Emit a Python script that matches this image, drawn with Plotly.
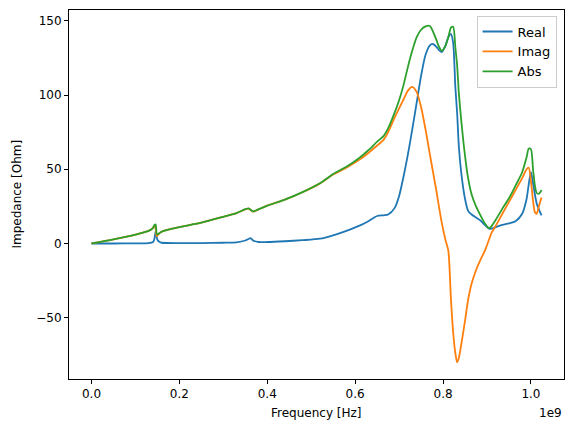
import plotly.graph_objects as go

freq_ghz = [0, 0.05, 0.10, 0.13, 0.14, 0.143, 0.146, 0.148, 0.150, 0.155, 0.16, 0.20, 0.25, 0.30,
            0.33, 0.35, 0.357, 0.362, 0.368, 0.38, 0.40, 0.44, 0.48, 0.52, 0.55, 0.58, 0.61, 0.63,
            0.65, 0.665, 0.675, 0.69, 0.70, 0.71, 0.72, 0.73, 0.74, 0.75, 0.76, 0.77, 0.776, 0.785,
            0.79, 0.797, 0.805, 0.812, 0.818, 0.823, 0.828, 0.832, 0.836, 0.842, 0.85, 0.857, 0.865,
            0.875, 0.885, 0.895, 0.905, 0.91, 0.92, 0.935, 0.95, 0.965, 0.98, 0.99, 0.995, 1.0,
            1.005, 1.009, 1.013, 1.018, 1.024]

real_ohm = [0, 0, 0.1, 0.3, 1, 3, 8, 5, 2.5, 1, 0.5, 0.3, 0.3, 0.5,
            0.8, 2, 3, 3.6, 2, 1, 1, 1.5, 2.2, 3.2, 5.5, 8.5, 12, 15,
            18.5, 19, 19.5, 24, 32, 45, 60, 77, 95, 113, 127, 133.5, 134.5, 132.5,
            130.5, 129, 133, 139, 141, 135, 105, 88, 65, 46, 30, 22, 19.5,
            17.5, 15.5, 12.5, 10, 10, 11, 12.5, 13.5, 15, 20, 30, 40, 48,
            40, 33, 27, 23, 19]

imag_ohm = [0, 2.8, 6, 8.5, 10.5, 12, 10, 5, 5.5, 7, 8, 11, 14, 18,
            20.5, 23, 23.5, 22.5, 21.5, 23, 25.5, 29.5, 34.5, 40.5, 46.5, 51, 56.5, 61,
            66, 70, 75, 85, 91, 97, 103, 105.5, 102, 92, 77, 60, 50, 35,
            26, 14, 3, -5, -38, -60, -74, -80, -77, -67, -52, -38, -27,
            -18, -11, -5, 3, 7, 12, 20, 28, 36, 44, 50, 51, 42,
            28, 21, 20, 25, 31]

abs_ohm = [0, 2.8, 6, 8.5, 10.5, 12.4, 12.8, 7, 6.1, 7.1, 8, 11, 14, 18,
           20.5, 23.1, 23.7, 22.8, 21.6, 23, 25.5, 29.5, 34.6, 40.6, 46.8, 51.7, 57.8, 62.8,
           68.6, 72.5, 77.5, 88.3, 96.5, 106.7, 119, 130, 139, 144, 146.3, 146.5, 143.5, 137,
           133, 129.8, 133, 139, 145.5, 146, 132, 120, 101, 81, 59, 44, 33,
           25, 19, 13.5, 10.4, 11.5, 16, 23.5, 30.5, 39, 48, 58, 64, 63.5,
           49, 39, 34, 33.5, 36]

freq_hz = [f * 1e9 for f in freq_ghz]

x_ticks = [0.0, 0.2, 0.4, 0.6, 0.8, 1.0]
x_tick_labels = ["0.0", "0.2", "0.4", "0.6", "0.8", "1.0"]
y_ticks = [-50, 0, 50, 100, 150]
y_tick_labels = ["\u221250", "0", "50", "100", "150"]

series = [("Real", real_ohm, "#1f77b4"), ("Imag", imag_ohm, "#ff7f0e"), ("Abs", abs_ohm, "#2ca02c")]

fig = go.Figure()
for name, vals, color in series:
    fig.add_trace(go.Scatter(x=freq_hz, y=vals, mode="lines", name=name,
                             line=dict(color=color, width=1.8, shape="spline", smoothing=0.7)))

font = dict(family="DejaVu Sans", size=12, color="black")
fig.update_layout(
    width=574, height=432,
    margin=dict(l=69, r=10, t=10, b=53),
    paper_bgcolor="white", plot_bgcolor="white",
    font=font,
    showlegend=True,
    legend=dict(x=0.985, y=0.985, xanchor="right", yanchor="top",
                bgcolor="rgba(255,255,255,0.8)", bordercolor="#cccccc", borderwidth=1,
                font=dict(family="DejaVu Sans", size=13, color="black"),
                itemwidth=30, tracegroupgap=2),
    xaxis=dict(range=[-0.0512e9, 1.0752e9], showgrid=False, zeroline=False,
               showline=True, linecolor="black", linewidth=1, mirror=True,
               ticks="outside", ticklen=4, tickcolor="black",
               tickvals=[t * 1e9 for t in x_ticks], ticktext=x_tick_labels),
    yaxis=dict(range=[-91.3, 157.3], showgrid=False, zeroline=False,
               showline=True, linecolor="black", linewidth=1, mirror=True,
               ticks="outside", ticklen=4, tickcolor="black",
               tickvals=y_ticks, ticktext=y_tick_labels),
    annotations=[
        dict(text="Frequency [Hz]", xref="paper", yref="paper", x=0.5, y=-0.092,
             xanchor="center", yanchor="middle", showarrow=False, font=font),
        dict(text="Impedance [Ohm]", xref="paper", yref="paper", x=-0.107, y=0.5,
             xanchor="center", yanchor="middle", textangle=-90, showarrow=False, font=font),
        dict(text="1e9", xref="paper", yref="paper", x=1.0, y=-0.092,
             xanchor="right", yanchor="middle", showarrow=False, font=font),
    ],
)

fig.write_html("out.html")
